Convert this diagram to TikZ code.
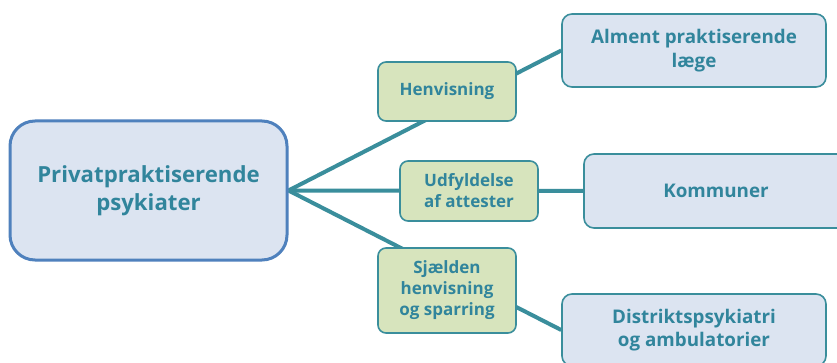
\documentclass[tikz,border=0pt]{standalone}
\usepackage{fontspec}
\setmainfont{Open Sans}
\usetikzlibrary{backgrounds}
\definecolor{tealtxt}{HTML}{31859C}
\definecolor{tealline}{HTML}{3A8E9C}
\definecolor{bluefill}{HTML}{DCE4F1}
\definecolor{blueedge}{HTML}{4F81BD}
\definecolor{greenfill}{HTML}{D7E4BD}
\tikzset{
  mainbox/.style={draw=blueedge, line width=3pt, fill=bluefill, rounded corners=25pt,
    minimum width=277pt, minimum height=139pt, inner sep=0pt, align=center,
    text=tealtxt, font=\bfseries\fontsize{22.2}{28}\selectfont},
  midbox/.style={draw=tealline, line width=1.6pt, fill=greenfill, rounded corners=8pt,
    minimum width=138pt, inner sep=0pt, align=center,
    text=tealtxt, font=\bfseries\fontsize{17}{21}\selectfont},
  endbox/.style={draw=tealline, line width=1.6pt, fill=bluefill, rounded corners=10pt,
    minimum width=264pt, inner sep=0pt, align=center,
    text=tealtxt, font=\bfseries\fontsize{18.8}{23.5}\selectfont},
  link/.style={draw=tealline, line width=4pt}
}
\begin{document}
\begin{tikzpicture}[x=1pt,y=-1pt]
  \useasboundingbox (0,0) rectangle (837,363);
  \clip (0,0) rectangle (837,363);

  \node[mainbox] (main) at (148.5,190.5) {Privatpraktiserende\\psykiater};

  \node[midbox, minimum height=59pt] (henv) at (447,91.5) {Henvisning};
  \node[midbox, minimum height=60pt] (udf) at (469,191) {Udfyldelse\\af attester};
  \node[midbox, minimum height=85pt] (sjld) at (447,290.5) {Sjælden\\henvisning\\og sparring};

  \node[endbox, minimum height=73pt] (alm) at (694,50.5) {Alment praktiserende\\læge};
  \node[endbox, minimum height=74pt] (komm) at (716,191) {Kommuner};
  \node[endbox, minimum height=72pt] (dist) at (694,330) {Distriktspsykiatri\\og ambulatorier};

  \begin{scope}[on background layer]
    \fill[white] (0,0) rectangle (837,363);
    \draw[link] (main.east) -- (alm.west);
    \draw[link] (main.east) -- (komm.west);
    \draw[link] (main.east) -- (dist.west);
  \end{scope}
\end{tikzpicture}
\end{document}
